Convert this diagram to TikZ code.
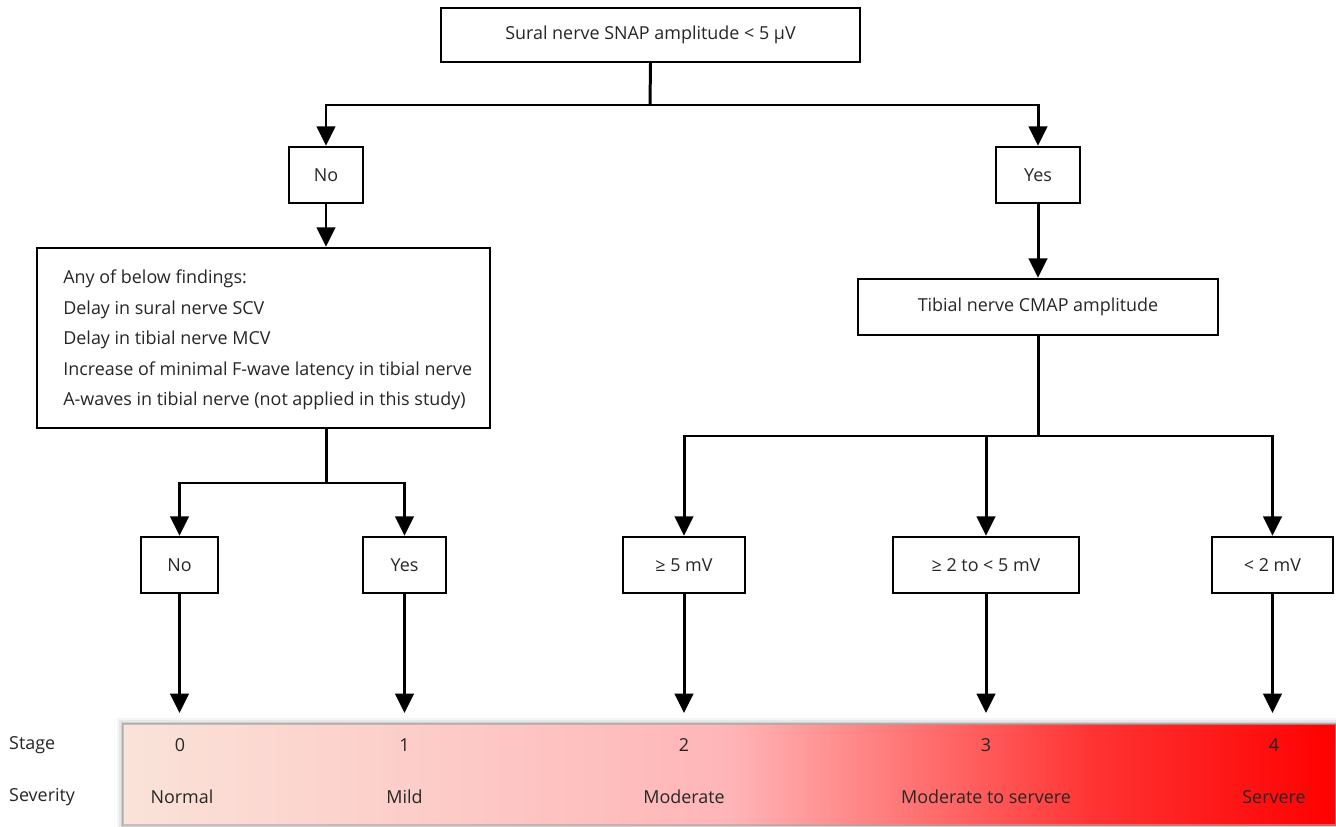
\documentclass[tikz,border=0pt]{standalone}
\usepackage{fontspec}
\setmainfont{Open Sans}
\usetikzlibrary{arrows.meta}
\pgfdeclarehorizontalshading{stagebar}{100bp}{%
rgb(0bp)=(0.98,0.89,0.85);
rgb(25bp)=(0.98,0.89,0.85);
rgb(50bp)=(1,0.71,0.72);
rgb(57bp)=(1,0.47,0.47);
rgb(65bp)=(1,0.2,0.2);
rgb(75bp)=(1,0,0);
rgb(100bp)=(1,0,0)}
\tikzset{
  txt/.style={text=black!85, font=\fontsize{10.2}{12}\selectfont},
  box/.style={draw=black, line width=1.4pt, fill=white, inner sep=0pt, txt, minimum height=1.12cm},
  conn/.style={draw=black, line width=1.7pt},
  arr/.style={conn, -{Triangle[width=10.5pt,length=11pt]}},
}
\begin{document}
\begin{tikzpicture}[x=0.02cm,y=-0.02cm]
\useasboundingbox (0,0) rectangle (1336,827);
% boxes
\node[box, minimum width=8.38cm, minimum height=1.08cm] (top) at (650.5,35) {Sural nerve SNAP amplitude < 5 µV};
\node[box, minimum width=1.48cm] (no1) at (326,175) {No};
\node[box, minimum width=1.68cm] (yes1) at (1038,175) {Yes};
\node[box, minimum width=9.06cm, minimum height=3.6cm] (big) at (263.5,338) {};
\node[txt, anchor=west, align=left, inner sep=0pt, font=\fontsize{10.2}{17.4}\selectfont] (bigtxt) at (63,340)
  {Any of below findings:\\Delay in sural nerve SCV\\Delay in tibial nerve MCV\\Increase of minimal F-wave latency in tibial nerve\\A-waves in tibial nerve (not applied in this study)};
\node[box, minimum width=7.2cm] (tib) at (1038,307) {Tibial nerve CMAP amplitude};
\node[box, minimum width=1.54cm] (no2) at (179.5,565) {No};
\node[box, minimum width=1.66cm] (yes2) at (404.5,565) {Yes};
\node[box, minimum width=2.44cm] (m5) at (684,565) {≥ 5 mV};
\node[box, minimum width=3.72cm] (m25) at (986,565) {≥ 2 to < 5 mV};
\node[box, minimum width=2.42cm] (m2) at (1272.5,565) {< 2 mV};
% connectors
\coordinate (j1) at (650,105);
\draw[conn] (top.south) -- (j1);
\draw[arr] (j1) -| (no1.north);
\draw[arr] (j1) -| (yes1.north);
\draw[arr] (no1.south) -- (no1.south |- big.north);
\draw[arr] (yes1.south) -- (tib.north);
\coordinate (j2) at (326.5,483);
\draw[conn] (j2 |- big.south) -- (j2);
\draw[arr] (j2) -| (no2.north);
\draw[arr] (j2) -| (yes2.north);
\coordinate (j3) at (1038,436);
\draw[conn] (tib.south) -- (j3);
\draw[arr] (j3) -| (m5.north);
\draw[arr] (j3) -| (m25.north);
\draw[arr] (j3) -| (m2.north);
% stage bar
\foreach \i/\o in {6/0.04,4/0.06,2/0.09,1/0.12}{
  \fill[black, opacity=\o] (123-\i,724-\i) rectangle (1336+\i,825+\i);
}
\fill[shading=stagebar] (123,724) rectangle (1336,825);
\draw[black!35, line width=1.2pt, opacity=0.6] (123,724) rectangle (1336,825);
\coordinate (t0) at (179.5,713);
\coordinate (t1) at (404.5,713);
\coordinate (t2) at (684,713);
\coordinate (t3) at (986,713);
\coordinate (t4) at (1272.5,713);
\draw[arr] (no2.south) -- (t0);
\draw[arr] (yes2.south) -- (t1);
\draw[arr] (m5.south) -- (t2);
\draw[arr] (m25.south) -- (t3);
\draw[arr] (m2.south) -- (t4);
% labels
\node[txt, anchor=west] (lstage) at (3,745) {Stage};
\node[txt, anchor=west] (lsev) at (3,797) {Severity};
\node[txt] (s0) at (180,745) {0};
\node[txt] (s1) at (404.5,745) {1};
\node[txt] (s2) at (684,745) {2};
\node[txt] (s3) at (986,745) {3};
\node[txt] (s4) at (1274,745) {4};
\node[txt] (v0) at (182,797) {Normal};
\node[txt] (v1) at (404.5,797) {Mild};
\node[txt] (v2) at (684,797) {Moderate};
\node[txt] (v3) at (986,797) {Moderate to servere};
\node[txt] (v4) at (1274,797) {Servere};
\end{tikzpicture}
\end{document}
